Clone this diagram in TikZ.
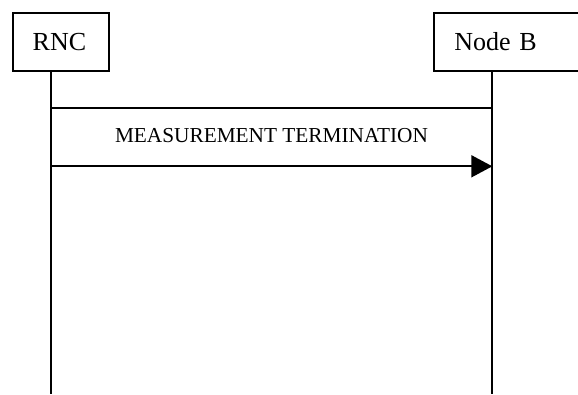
\documentclass[tikz,border=0pt]{standalone}
\usepackage{fontspec}
\setmainfont{Liberation Serif}
\usetikzlibrary{arrows.meta}
\begin{document}
\begin{tikzpicture}[x=1pt,y=-1pt,
    entity/.style={draw,line width=1.8pt,outer sep=0pt,anchor=north west,minimum height=58pt,
        inner xsep=20pt,align=left,font=\fontsize{26}{30}\selectfont},
    life/.style={line width=1.8pt},
    msgtext/.style={font=\fontsize{21.3}{25}\selectfont}]
    \useasboundingbox (0,0) rectangle (578,394);
    \clip (0,0) rectangle (578,394);
    \node[entity,text width=56pt] (rnc) at (12.7,12.7) {RNC};
    \node[entity,text width=120pt] (nodeb) at (434.3,12.7) {Node B};
    \coordinate (rncTop) at (50.7,70.7);
    \coordinate (rncEnd) at (50.7,394);
    \coordinate (nbTop) at (492.3,70.7);
    \coordinate (nbEnd) at (492.3,394);
    \coordinate (m1) at (50.7,108.3);
    \coordinate (m2) at (492.3,108.3);
    \coordinate (a1) at (50.7,166.3);
    \coordinate (a2) at (492.3,166.3);
    \draw[life] (rncTop) -- (rncEnd);
    \draw[life] (nbTop) -- (nbEnd);
    \draw[life] (m1) -- (m2);
    \draw[life,-{Triangle[length=21pt,width=22pt]}] (a1) -- (a2);
    \node[msgtext] (term) at (271.5,135.3) {MEASUREMENT TERMINATION};
\end{tikzpicture}
\end{document}
